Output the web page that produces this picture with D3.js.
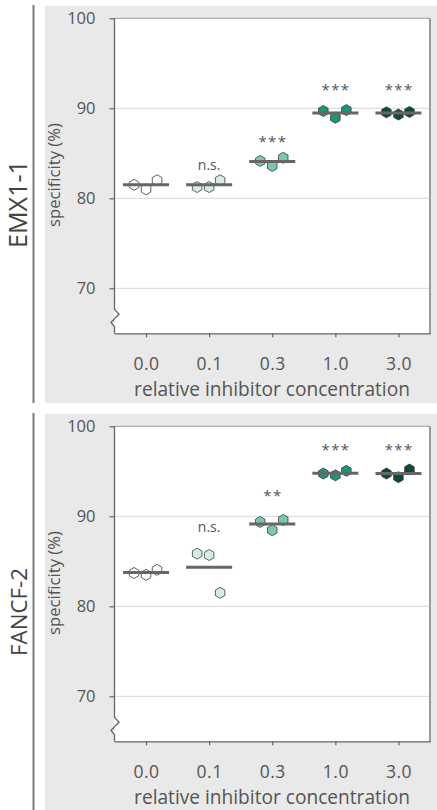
<!DOCTYPE html>
<html>
<head>
<meta charset="utf-8">
<script src="https://cdn.jsdelivr.net/npm/d3@7"></script>
<style>
  html, body { margin: 0; padding: 0; background: #ffffff; }
  svg { display: block; }
  text { font-family: "Open Sans", Lato, sans-serif; }
</style>
</head>
<body>
<svg id="chart" width="437" height="810"></svg>
<script>
// ---------------- data ----------------
const categories = ["0.0", "0.1", "0.3", "1.0", "3.0"];
const panelNames = ["EMX1-1", "FANCF-2"];
const yTicks = [70, 80, 90, 100];
const yDomain = [65, 100];

// replicate values (specificity %), three per concentration
const emxValues = [
  [81.5, 81.0, 82.0],
  [81.25, 81.25, 82.0],
  [84.15, 83.6, 84.5],
  [89.7, 88.95, 89.8],
  [89.55, 89.3, 89.6]
];
const fancfValues = [
  [83.7, 83.5, 84.05],
  [85.85, 85.7, 81.5],
  [89.37, 88.45, 89.6],
  [94.75, 94.55, 95.05],
  [94.75, 94.35, 95.2]
];
// significance labels and their vertical position (data units, text baseline)
const emxSig = ["", "n.s.", "***", "***", "***"];
const emxSigY = [null, 83.1, 85.75, 91.5, 91.5];
const fancfSig = ["", "n.s.", "**", "***", "***"];
const fancfSigY = [null, 88.3, 91.75, 96.8, 96.8];

const groupColors = ["#ffffff", "#d3ece7", "#79c8b4", "#1c9679", "#0e4a3a"];
const xLabel = "relative inhibitor concentration";
const yLabel = "specificity (%)";

// ---------------- layout ----------------
const svg = d3.select("#chart");
const panelOffsets = [0, 408];
const plotL = 114.5, plotR = 430, plotT = 18.3, plotB = 333.3;
const jitter = [-12, 0, 11];
const hexR = 5.5;
const FONT = "'Open Sans', Lato, sans-serif";

function hexPath(r) {
  const pts = d3.range(6).map(i => {
    const a = Math.PI / 3 * i - Math.PI / 2;
    return [r * Math.cos(a), r * Math.sin(a)];
  });
  return "M" + pts.map(p => p.join(",")).join("L") + "Z";
}
function fitWidth(sel, target) {
  const L = sel.node().getComputedTextLength();
  const fs = parseFloat(sel.style("font-size"));
  if (L > 0) sel.style("font-size", (fs * target / L) + "px");
}

const panels = [
  { name: panelNames[0], values: emxValues, sig: emxSig, sigY: emxSigY },
  { name: panelNames[1], values: fancfValues, sig: fancfSig, sigY: fancfSigY }
];

panels.forEach((p, pi) => {
  const off = panelOffsets[pi];
  const g = svg.append("g").attr("transform", `translate(0,${off})`);

  // gray panel background
  g.append("rect").attr("x", 45).attr("y", 6).attr("width", 392).attr("height", 397)
    .attr("fill", "#e8e9e8");
  // left vertical separator
  g.append("line").attr("x1", 33.5).attr("x2", 33.5).attr("y1", 5).attr("y2", 403)
    .attr("stroke", "#7a7a7a").attr("stroke-width", 2);

  const x = d3.scalePoint().domain(categories).range([plotL, plotR]).padding(0.5);
  const y = d3.scaleLinear().domain(yDomain).range([plotB, plotT]);

  // white plot area
  g.append("rect").attr("x", plotL).attr("y", plotT).attr("width", plotR - plotL)
    .attr("height", plotB - plotT).attr("fill", "#ffffff");

  // gridlines
  g.selectAll(".grid").data(yTicks.filter(t => t < 100)).enter().append("line")
    .attr("x1", plotL).attr("x2", plotR)
    .attr("y1", d => y(d)).attr("y2", d => y(d))
    .attr("stroke", "#d6d6d6").attr("stroke-width", 1);

  // top and right borders
  g.append("line").attr("x1", plotL).attr("x2", plotR).attr("y1", plotT).attr("y2", plotT)
    .attr("stroke", "#9a9a9a").attr("stroke-width", 1);
  g.append("line").attr("x1", plotR).attr("x2", plotR).attr("y1", plotT).attr("y2", plotB)
    .attr("stroke", "#9a9a9a").attr("stroke-width", 2);

  // y axis (ticks + labels)
  const yAxis = d3.axisLeft(y).tickValues(yTicks).tickSize(5).tickPadding(14);
  const ya = g.append("g").attr("transform", `translate(${plotL},0)`).call(yAxis);
  ya.select(".domain").remove();
  ya.selectAll(".tick line").attr("stroke", "#666").attr("stroke-width", 1.2);
  ya.selectAll(".tick text").attr("fill", "#555").style("font-size", "16.5px")
    .style("font-family", FONT);

  // y axis line with break
  const bb = plotB;
  const axisPath = d3.path();
  axisPath.moveTo(plotL, y(100));
  axisPath.lineTo(plotL, bb - 24);
  axisPath.lineTo(plotL + 4.5, bb - 19);
  axisPath.lineTo(plotL - 3.5, bb - 11);
  axisPath.lineTo(plotL, bb - 6.5);
  axisPath.lineTo(plotL, bb);
  g.append("path").attr("d", axisPath.toString()).attr("fill", "none")
    .attr("stroke", "#666").attr("stroke-width", 1.3);

  // x axis
  const xAxis = d3.axisBottom(x).tickSize(4).tickPadding(20);
  const xa = g.append("g").attr("transform", `translate(0,${plotB})`).call(xAxis);
  xa.select(".domain").attr("d", `M${plotL},0.5H${plotR + 1}`).attr("stroke", "#666").attr("stroke-width", 1.3);
  xa.selectAll(".tick line").attr("stroke", "#666").attr("stroke-width", 1.2);
  xa.selectAll(".tick text").attr("fill", "#555").style("font-size", "17.5px")
    .style("font-family", FONT).style("letter-spacing", "0.5px");

  // axis titles
  const xt = g.append("text").attr("x", 272).attr("y", 396)
    .attr("text-anchor", "middle").attr("fill", "#555").style("font-size", "16px")
    .text(xLabel);
  fitWidth(xt, 276);
  const yt = g.append("text").attr("transform", `translate(59.5,175) rotate(-90)`)
    .attr("text-anchor", "middle").attr("fill", "#555").style("font-size", "13px")
    .text(yLabel);
  fitWidth(yt, 104);
  const pt = g.append("text").attr("transform", `translate(27,204) rotate(-90)`)
    .attr("text-anchor", "middle").attr("fill", "#444").style("font-size", "20px")
    .text(p.name);
  fitWidth(pt, 88);

  // points
  categories.forEach((c, ci) => {
    const vals = p.values[ci];
    g.selectAll(null).data(vals).enter().append("path")
      .attr("d", hexPath(hexR))
      .attr("transform", (d, k) => `translate(${x(c) + jitter[k]},${y(d)})`)
      .attr("fill", groupColors[ci])
      .attr("stroke", "#3a3a3a").attr("stroke-width", 0.8);
    const m = d3.mean(vals);
    g.append("line").attr("x1", x(c) - 23).attr("x2", x(c) + 23)
      .attr("y1", y(m)).attr("y2", y(m))
      .attr("stroke", "#666").attr("stroke-width", 3);
    if (p.sig[ci]) {
      const isStar = p.sig[ci].startsWith("*");
      g.append("text").attr("x", x(c) + (isStar ? 0.7 : 0)).attr("y", y(p.sigY[ci]))
        .attr("text-anchor", "middle").attr("fill", "#555")
        .style("font-size", isStar ? "15px" : "14px")
        .style("letter-spacing", isStar ? "1.4px" : "0px")
        .text(p.sig[ci]);
    }
  });
});
</script>
</body>
</html>
